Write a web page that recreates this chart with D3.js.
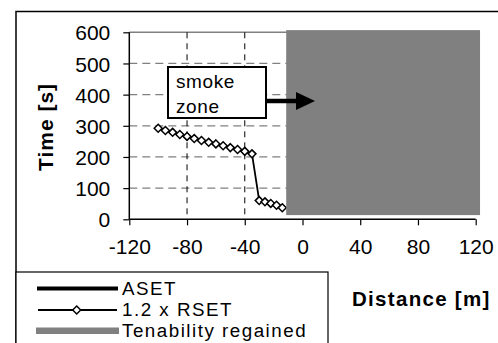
<!DOCTYPE html>
<html><head><meta charset="utf-8">
<script src="https://cdn.jsdelivr.net/npm/d3@7"></script>
<style>
html,body{margin:0;padding:0;background:#fff;}
svg{display:block;}
text{font-family:"Liberation Sans",Arial,sans-serif;fill:#000;}
</style></head>
<body>
<script>
const xTicks = [-120, -80, -40, 0, 40, 80, 120];
const yTicks = [0, 100, 200, 300, 400, 500, 600];
const rsetX = [-100, -95, -90, -85, -80, -75, -70, -65, -60, -55, -50, -45, -40, -35, -30, -26, -22, -18, -14];
const rsetY = [292, 285, 279, 272, 266, 259, 253, 247, 242, 236, 230, 224, 218, 210, 60, 56, 51, 45, 37];
const tenabilityX = [-11.3, 123];
const tenabilityY = [13.5, 607];
const legendLabels = ["ASET", "1.2 x RSET", "Tenability regained"];
const annotation = ["smoke", "zone"];

const W = 498, H = 343;
const svg = d3.select("body").append("svg").attr("width", W).attr("height", H);

const x = d3.scaleLinear().domain([-120, 120]).range([129.3, 475.7]);
const y = d3.scaleLinear().domain([0, 600]).range([219.3, 32.3]);

// outer frame
svg.append("rect").attr("x", 16).attr("y", 11.5).attr("width", 600).attr("height", 400)
  .attr("fill", "none").attr("stroke", "#000").attr("stroke-width", 1.5);

// horizontal gridlines
svg.append("g").selectAll("line").data(yTicks.filter(d => d > 0 && d < 600)).join("line")
  .attr("x1", x(-120)).attr("x2", x(120)).attr("y1", d => y(d)).attr("y2", d => y(d))
  .attr("stroke", "#808080").attr("stroke-width", 1.2).attr("stroke-dasharray", "8,5");
// top border of plot
svg.append("line").attr("x1", x(-120)).attr("x2", x(120)).attr("y1", y(600)).attr("y2", y(600))
  .attr("stroke", "#808080").attr("stroke-width", 1.5);
// vertical gridlines
svg.append("g").selectAll("line").data(xTicks.filter(d => d > -120 && d < 120)).join("line")
  .attr("x1", d => x(d)).attr("x2", d => x(d)).attr("y1", y(600)).attr("y2", y(0))
  .attr("stroke", "#000").attr("stroke-width", 1).attr("stroke-dasharray", "6,5");

// axes
const fmt = d => String(d);
const xAxis = d3.axisBottom(x).tickValues(xTicks).tickFormat(fmt).tickSize(6).tickPadding(14);
const gx = svg.append("g").attr("transform", `translate(0,${y(0)})`).call(xAxis);
gx.select(".domain").attr("stroke", "#000").attr("stroke-width", 1.5).attr("d", `M${x(-120)},0H${x(120)}`);
gx.selectAll(".tick line").attr("stroke", "#000").attr("stroke-width", 1.2);
gx.selectAll(".tick text").attr("font-size", 21).attr("fill", "#000");

const yAxis = d3.axisLeft(y).tickValues(yTicks).tickFormat(fmt).tickSize(6).tickPadding(13);
const gy = svg.append("g").attr("transform", `translate(${x(-120)},0)`).call(yAxis);
gy.select(".domain").attr("stroke", "#000").attr("stroke-width", 1.5).attr("d", `M0,${y(0)}V${y(600)}`);
gy.selectAll(".tick line").attr("stroke", "#000").attr("stroke-width", 1.2);
gy.selectAll(".tick text").attr("font-size", 21).attr("fill", "#000").attr("dy", "0.36em");

// RSET series
const pts = rsetX.map((d, i) => [d, rsetY[i]]);
svg.append("path").datum(pts)
  .attr("d", d3.line().x(d => x(d[0])).y(d => y(d[1])))
  .attr("fill", "none").attr("stroke", "#000").attr("stroke-width", 1.8);
const diamond = d3.symbol().type(d3.symbolDiamond2).size(40);
svg.append("g").selectAll("path").data(pts).join("path")
  .attr("transform", d => `translate(${x(d[0])},${y(d[1])})`)
  .attr("d", diamond).attr("fill", "#fff").attr("stroke", "#000").attr("stroke-width", 1.5);

// tenability region
svg.append("rect")
  .attr("x", x(tenabilityX[0])).attr("y", y(tenabilityY[1]))
  .attr("width", x(tenabilityX[1]) - x(tenabilityX[0]))
  .attr("height", y(tenabilityY[0]) - y(tenabilityY[1]))
  .attr("fill", "#808080");

// smoke zone annotation
svg.append("rect").attr("x", 168).attr("y", 67).attr("width", 98).attr("height", 51)
  .attr("fill", "#fff").attr("stroke", "#000").attr("stroke-width", 2);
svg.append("g").selectAll("text").data(annotation).join("text")
  .attr("x", 176).attr("y", (d, i) => 87.5 + i * 25)
  .attr("font-size", 19).attr("letter-spacing", 0.6).text(d => d);
svg.append("line").attr("x1", 267).attr("x2", 298).attr("y1", 101).attr("y2", 101)
  .attr("stroke", "#000").attr("stroke-width", 4.5);
svg.append("path").attr("d", "M296,92L315,101L296,110Z").attr("fill", "#000");

// axis titles
svg.append("text").attr("transform", "translate(53,127) rotate(-90)")
  .attr("text-anchor", "middle").attr("font-size", 21).attr("font-weight", "bold")
  .attr("letter-spacing", 1).text("Time [s]");
svg.append("text").attr("x", 352).attr("y", 306)
  .attr("font-size", 20.5).attr("font-weight", "bold").attr("letter-spacing", 1.3).text("Distance [m]");

// legend
svg.append("rect").attr("x", 16).attr("y", 272).attr("width", 312).attr("height", 100)
  .attr("fill", "#fff").attr("stroke", "#000").attr("stroke-width", 1.2);
const lg = svg.append("g");
lg.append("line").attr("x1", 37).attr("x2", 118).attr("y1", 288.5).attr("y2", 288.5)
  .attr("stroke", "#000").attr("stroke-width", 4);
lg.append("line").attr("x1", 38).attr("x2", 117).attr("y1", 310).attr("y2", 310)
  .attr("stroke", "#000").attr("stroke-width", 1.8);
lg.append("path").attr("transform", "translate(76.7,310)").attr("d", diamond)
  .attr("fill", "#fff").attr("stroke", "#000").attr("stroke-width", 1.5);
lg.append("rect").attr("x", 36).attr("y", 327.5).attr("width", 83).attr("height", 6.5).attr("fill", "#808080");
lg.selectAll("text").data(legendLabels).join("text")
  .attr("x", 122).attr("y", (d, i) => 294.5 + i * 21)
  .attr("font-size", 18.8).attr("letter-spacing", 1.5).text(d => d);
</script>
</body></html>
